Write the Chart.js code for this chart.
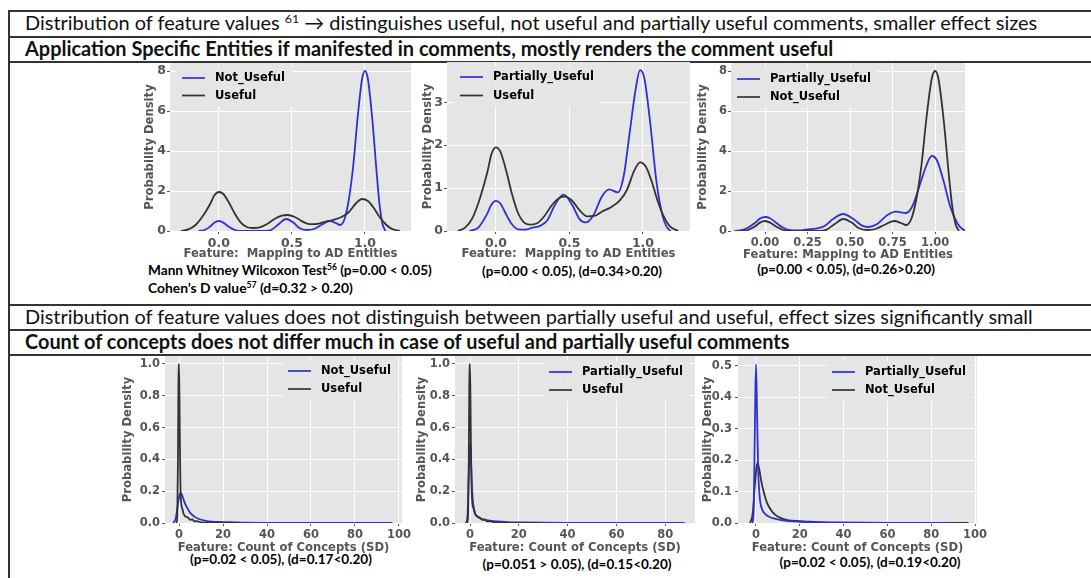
<!DOCTYPE html>
<html>
<head>
<meta charset="utf-8">
<script src="https://cdn.jsdelivr.net/npm/chart.js@4.4.1/dist/chart.umd.min.js"></script>
<style>
  html, body { margin: 0; padding: 0; background: #fff; }
  body { position: relative; width: 1091px; height: 578px; overflow: hidden; }
  .hl { position: absolute; left: 8px; width: 1090px; height: 1.5px; background: #333; }
  .vl { position: absolute; left: 8px; top: 10px; width: 1.5px; height: 570px; background: #333; }
  .row { position: absolute; left: 25px; font-family: Lato, sans-serif; font-size: 17px; color: #111;
         white-space: nowrap; line-height: 1; transform: translateY(-50%); }
  .row.b { font-weight: 700; }
  .note { position: absolute; font-family: Lato, sans-serif; font-weight: 700; font-size: 13px; color: #000;
          white-space: nowrap; line-height: 1; transform: translateY(-50%); }
  .note.c { transform: translate(-50%, -50%); }
  sup { font-size: 62%; line-height: 0; vertical-align: 0.6em; }
  canvas { position: absolute; }
</style>
</head>
<body>
<div class="vl"></div>
<div class="hl" style="top:10px"></div>
<div class="hl" style="top:36px"></div>
<div class="hl" style="top:61px"></div>
<div class="hl" style="top:304px"></div>
<div class="hl" style="top:329px"></div>
<div class="hl" style="top:354px"></div>

<div class="row" id="r1" style="top:23px" data-w="1013">Distribution of feature values <sup>61</sup> &rarr; distinguishes useful, not useful and partially useful comments, smaller effect sizes</div>
<div class="row b" id="r2" style="top:48.5px" data-ref="r1">Application Specific Entities if manifested in comments, mostly renders the comment useful</div>
<div class="row" id="r4" style="top:316.5px" data-w="1008">Distribution of feature values does not distinguish between partially useful and useful, effect sizes significantly small</div>
<div class="row b" id="r5" style="top:341.5px" data-ref="r4">Count of concepts does not differ much in case of useful and partially useful comments</div>

<div class="note" style="left:148px;top:271px" data-w="284">Mann Whitney Wilcoxon Test<sup>56</sup> (p=0.00 &lt; 0.05)</div>
<div class="note" style="left:148px;top:288px" data-w="205">Cohen&rsquo;s D value<sup>57</sup> (d=0.32 &gt; 0.20)</div>
<div class="note c" style="left:572px;top:272px" data-w="180">(p=0.00 &lt; 0.05), (d=0.34&gt;0.20)</div>
<div class="note c" style="left:846px;top:270px" data-w="178">(p=0.00 &lt; 0.05), (d=0.26&gt;0.20)</div>
<div class="note c" style="left:281px;top:560px" data-w="182">(p=0.02 &lt; 0.05), (d=0.17&lt;0.20)</div>
<div class="note c" style="left:577px;top:565px" data-w="189">(p=0.051 &gt; 0.05), (d=0.15&lt;0.20)</div>
<div class="note c" style="left:870px;top:563px" data-w="181">(p=0.02 &lt; 0.05), (d=0.19&lt;0.20)</div>

<script>
// ---- Density estimates: feature "Mapping to AD Entities" ----
const AD_NOT_USEFUL_X = [-0.14, -0.1, -0.06, -0.03, 0, 0.03, 0.07, 0.11, 0.15, 0.32, 0.36, 0.41, 0.46, 0.51, 0.55, 0.6, 0.65, 0.7, 0.76, 0.8, 0.83, 0.86, 0.89, 0.92, 0.95, 0.98, 1.0, 1.02, 1.05, 1.08, 1.1, 1.12, 1.14];
const AD_NOT_USEFUL_Y = [0, 0.05, 0.22, 0.42, 0.5, 0.42, 0.2, 0.05, 0, 0, 0.06, 0.35, 0.6, 0.42, 0.15, 0.05, 0.1, 0.3, 0.5, 0.4, 0.3, 0.6, 1.6, 3.3, 5.7, 7.6, 8.0, 7.6, 5.6, 2.9, 1.3, 0.35, 0];

const AD_USEFUL_X = [-0.26, -0.21, -0.16, -0.11, -0.06, -0.03, 0, 0.03, 0.07, 0.11, 0.15, 0.19, 0.23, 0.28, 0.33, 0.38, 0.43, 0.47, 0.52, 0.57, 0.62, 0.67, 0.72, 0.78, 0.84, 0.89, 0.94, 0.98, 1.02, 1.06, 1.1, 1.14, 1.18, 1.24];
const AD_USEFUL_Y = [0, 0.08, 0.3, 0.75, 1.35, 1.8, 1.95, 1.85, 1.4, 0.85, 0.42, 0.2, 0.15, 0.18, 0.35, 0.6, 0.77, 0.8, 0.7, 0.48, 0.34, 0.35, 0.45, 0.55, 0.7, 0.95, 1.4, 1.6, 1.5, 1.15, 0.7, 0.35, 0.12, 0];

const AD_PARTIAL_X = [-0.18, -0.12, -0.06, -0.03, 0, 0.03, 0.06, 0.1, 0.15, 0.2, 0.25, 0.3, 0.35, 0.4, 0.46, 0.52, 0.57, 0.61, 0.66, 0.72, 0.77, 0.83, 0.87, 0.91, 0.95, 0.98, 1.01, 1.05, 1.09, 1.13, 1.16, 1.19];
const AD_PARTIAL_Y = [0, 0.08, 0.4, 0.62, 0.7, 0.64, 0.45, 0.2, 0.04, 0.03, 0.08, 0.12, 0.25, 0.6, 0.85, 0.6, 0.27, 0.2, 0.35, 0.8, 0.97, 0.9, 1.3, 2.3, 3.3, 3.75, 3.55, 2.5, 1.2, 0.4, 0.1, 0];

// ---- Density estimates: feature "Count of Concepts (SD)" ----
const CC_NOT_USEFUL_X = [-2.7, -1.5, -0.5, 0.3, 0.8, 1.5, 2.5, 3.5, 5, 7, 9, 12, 15, 20, 25, 30, 40, 60, 97];
const CC_NOT_USEFUL_Y = [0, 0.03, 0.12, 0.18, 0.19, 0.17, 0.13, 0.1, 0.065, 0.04, 0.025, 0.014, 0.008, 0.006, 0.004, 0.002, 0.001, 0, 0];

const CC_USEFUL_X = [-1.2, -0.8, -0.5, -0.3, 0, 0.3, 0.6, 1, 1.5, 2, 3, 4, 5, 6, 7, 8, 10, 14, 20, 28];
const CC_USEFUL_Y = [0, 0.05, 0.4, 0.85, 1.0, 0.6, 0.25, 0.12, 0.09, 0.06, 0.04, 0.035, 0.02, 0.022, 0.01, 0.012, 0.004, 0.002, 0.001, 0];

const CC_PARTIAL_X = [-1.6, -1, -0.5, 0, 0.5, 1, 1.5, 2, 3, 4, 6, 8, 11, 15, 20, 30, 40, 60, 88];
const CC_PARTIAL_Y = [0, 0.05, 0.3, 0.505, 0.35, 0.17, 0.1, 0.065, 0.04, 0.03, 0.02, 0.015, 0.01, 0.006, 0.004, 0.002, 0.001, 0, 0];

// ---- Tick values ----
const AD_X_TICKS = [0, 0.5, 1.0];
const AD_X_TICKS_FINE = [0, 0.25, 0.5, 0.75, 1.0];
const AD_Y_TICKS_8 = [0, 2, 4, 6, 8];
const AD_Y_TICKS_3 = [0, 1, 2, 3];
const CC_X_TICKS_100 = [0, 20, 40, 60, 80, 100];
const CC_X_TICKS_80 = [0, 20, 40, 60, 80];
const CC_Y_TICKS_1 = [0, 0.2, 0.4, 0.6, 0.8, 1.0];
const CC_Y_TICKS_05 = [0, 0.1, 0.2, 0.3, 0.4, 0.5];

const BLUE = '#2f2fd6';
const DARK = '#333333';
const AXIS_GRAY = '#555555';
const PANEL_BG = '#e5e5e5';

// ---- Fit HTML text widths ----
function fitTexts() {
  document.querySelectorAll('[data-w]').forEach(el => {
    const target = parseFloat(el.dataset.w);
    const fs = parseFloat(getComputedStyle(el).fontSize);
    const w = el.getBoundingClientRect().width;
    if (w > 0) el.style.fontSize = (fs * target / w) + 'px';
  });
  document.querySelectorAll('[data-ref]').forEach(el => {
    const ref = document.getElementById(el.dataset.ref);
    el.style.fontSize = getComputedStyle(ref).fontSize;
  });
}

// ---- Plugins ----
const panelBackground = {
  id: 'panelBackground',
  beforeDraw(chart) {
    const a = chart.chartArea, ctx = chart.ctx;
    ctx.save();
    ctx.fillStyle = PANEL_BG;
    ctx.fillRect(a.left, a.top, a.right - a.left, a.bottom - a.top);
    ctx.restore();
  }
};

const boxLegend = {
  id: 'boxLegend',
  afterDatasetsDraw(chart, args, opts) {
    const ctx = chart.ctx;
    const sets = chart.data.datasets;
    ctx.save();
    ctx.font = 'bold 11.5px "DejaVu Sans"';
    const tw = Math.max(...sets.map(d => ctx.measureText(d.label).width));
    const lineX = opts.lineX, y1 = opts.rowY, gap = opts.gap;
    const x0 = lineX - 6, y0 = y1 - 11;
    const w = 6 + 23 + 10 + tw + 7, h = gap + 22;
    ctx.fillStyle = 'rgba(229,229,229,0.92)';
    ctx.fillRect(x0, y0, w, h);
    sets.forEach((d, i) => {
      const y = y1 + i * gap;
      ctx.strokeStyle = d.borderColor;
      ctx.lineWidth = 1.7;
      ctx.beginPath();
      ctx.moveTo(lineX, y);
      ctx.lineTo(lineX + 23, y);
      ctx.stroke();
      ctx.fillStyle = '#000';
      ctx.textBaseline = 'middle';
      ctx.textAlign = 'left';
      ctx.fillText(d.label, lineX + 33, y + 0.5);
    });
    ctx.restore();
  }
};

function series(label, xs, ys, color, order) {
  return {
    label, borderColor: color, backgroundColor: color, borderWidth: 1.8,
    pointRadius: 0, fill: false, cubicInterpolationMode: 'monotone', order,
    data: xs.map((x, i) => ({ x, y: ys[i] }))
  };
}

const titleFont = { family: 'DejaVu Sans', weight: 'bold', size: 11.6 };

function buildChart(p) {
  const left = p.yTitleX - 7, top = p.T - 12;
  const right = p.R + 18, bottom = p.xTitleY + 8;
  const canvas = document.createElement('canvas');
  canvas.width = right - left;
  canvas.height = bottom - top;
  canvas.style.left = left + 'px';
  canvas.style.top = top + 'px';
  document.body.appendChild(canvas);

  const tickFont = { family: 'DejaVu Sans', weight: 'bold', size: p.tickSize };
  const grid = { color: '#ffffff', lineWidth: 1, drawTicks: true, tickLength: 3, tickColor: AXIS_GRAY };
  new Chart(canvas, {
    type: 'line',
    data: { datasets: p.datasets },
    options: {
      responsive: false, animation: false, devicePixelRatio: 1,
      layout: { padding: { top: p.T - top, right: right - p.R, bottom: 0, left: 0 } },
      plugins: {
        legend: { display: false }, tooltip: { enabled: false },
        boxLegend: { lineX: p.legend.lineX - left, rowY: p.legend.rowY - top, gap: p.legend.gap }
      },
      scales: {
        x: {
          type: 'linear', min: p.xMin, max: p.xMax,
          afterBuildTicks: s => { s.ticks = p.xTicks.map(v => ({ value: v })); },
          afterFit: s => { s.height = bottom - p.B; },
          ticks: { callback: v => v.toFixed(p.xDec), font: tickFont, color: AXIS_GRAY, padding: 2, maxRotation: 0, autoSkip: false },
          grid, border: { display: false },
          title: { display: true, text: p.xTitle, font: titleFont, color: AXIS_GRAY, padding: 0 }
        },
        y: {
          type: 'linear', min: 0, max: p.yMax,
          afterBuildTicks: s => { s.ticks = p.yTicks.map(v => ({ value: v })); },
          afterFit: s => { s.width = p.L - left; },
          ticks: { callback: v => v.toFixed(p.yDec), font: tickFont, color: AXIS_GRAY, padding: p.yPad, autoSkip: false },
          grid, border: { display: false },
          title: { display: true, text: 'Probability Density', font: titleFont, color: AXIS_GRAY, padding: 0 }
        }
      }
    },
    plugins: [panelBackground, boxLegend]
  });
}

function draw() {
  fitTexts();
  const AD1 = 'Feature:  Mapping to AD Entities';
  const AD2 = 'Feature: Mapping to AD Entities';
  const CC = 'Feature: Count of Concepts (SD)';

  buildChart({ L: 170, R: 411, T: 63, B: 231, yTitleX: 150, xTitleY: 253, tickSize: 12.5, yPad: 1,
    xMin: -0.335, xMax: 1.315, yMax: 8.4, xTicks: AD_X_TICKS, xDec: 1, yTicks: AD_Y_TICKS_8, yDec: 0, xTitle: AD1,
    legend: { lineX: 182, rowY: 78, gap: 17.5 },
    datasets: [series('Not_Useful', AD_NOT_USEFUL_X, AD_NOT_USEFUL_Y, BLUE, 1),
               series('Useful', AD_USEFUL_X, AD_USEFUL_Y, DARK, 0)] });

  buildChart({ L: 447, R: 690, T: 62, B: 231, yTitleX: 428, xTitleY: 253, tickSize: 12.5, yPad: 1,
    xMin: -0.333, xMax: 1.32, yMax: 3.94, xTicks: AD_X_TICKS, xDec: 1, yTicks: AD_Y_TICKS_3, yDec: 0, xTitle: AD1,
    legend: { lineX: 460, rowY: 77, gap: 18.5 },
    datasets: [series('Partially_Useful', AD_PARTIAL_X, AD_PARTIAL_Y, BLUE, 1),
               series('Useful', AD_USEFUL_X, AD_USEFUL_Y, DARK, 0)] });

  buildChart({ L: 731, R: 965, T: 63, B: 231, yTitleX: 703, xTitleY: 254, tickSize: 11.5, yPad: 1,
    xMin: -0.2, xMax: 1.176, yMax: 8.4, xTicks: AD_X_TICKS_FINE, xDec: 2, yTicks: AD_Y_TICKS_8, yDec: 0, xTitle: AD2,
    legend: { lineX: 737, rowY: 79, gap: 18 },
    datasets: [series('Partially_Useful', AD_PARTIAL_X, AD_PARTIAL_Y, BLUE, 1),
               series('Not_Useful', AD_NOT_USEFUL_X, AD_NOT_USEFUL_Y, DARK, 0)] });

  buildChart({ L: 165, R: 402, T: 356, B: 523, yTitleX: 128, xTitleY: 547, tickSize: 11.5, yPad: 2,
    xMin: -6.4, xMax: 101.4, yMax: 1.05, xTicks: CC_X_TICKS_100, xDec: 0, yTicks: CC_Y_TICKS_1, yDec: 1, xTitle: CC,
    legend: { lineX: 288, rowY: 371, gap: 18 },
    datasets: [series('Not_Useful', CC_NOT_USEFUL_X, CC_NOT_USEFUL_Y, BLUE, 1),
               series('Useful', CC_USEFUL_X, CC_USEFUL_Y, DARK, 0)] });

  buildChart({ L: 455, R: 695, T: 356, B: 523, yTitleX: 422, xTitleY: 547, tickSize: 11.5, yPad: 2,
    xMin: -6.15, xMax: 92.2, yMax: 1.05, xTicks: CC_X_TICKS_80, xDec: 0, yTicks: CC_Y_TICKS_1, yDec: 1, xTitle: CC,
    legend: { lineX: 549, rowY: 372, gap: 18 },
    datasets: [series('Partially_Useful', CC_PARTIAL_X, CC_PARTIAL_Y, BLUE, 1),
               series('Useful', CC_USEFUL_X, CC_USEFUL_Y, DARK, 0)] });

  buildChart({ L: 738, R: 977, T: 356, B: 523, yTitleX: 708, xTitleY: 547, tickSize: 11.5, yPad: 3,
    xMin: -8.2, xMax: 100.9, yMax: 0.531, xTicks: CC_X_TICKS_100, xDec: 0, yTicks: CC_Y_TICKS_05, yDec: 1, xTitle: CC,
    legend: { lineX: 832, rowY: 372, gap: 18 },
    datasets: [series('Partially_Useful', CC_PARTIAL_X, CC_PARTIAL_Y, BLUE, 0),
               series('Not_Useful', CC_NOT_USEFUL_X, CC_NOT_USEFUL_Y, DARK, 1)] });
}

if (document.fonts && document.fonts.ready) {
  document.fonts.ready.then(draw);
} else {
  draw();
}
</script>
</body>
</html>
